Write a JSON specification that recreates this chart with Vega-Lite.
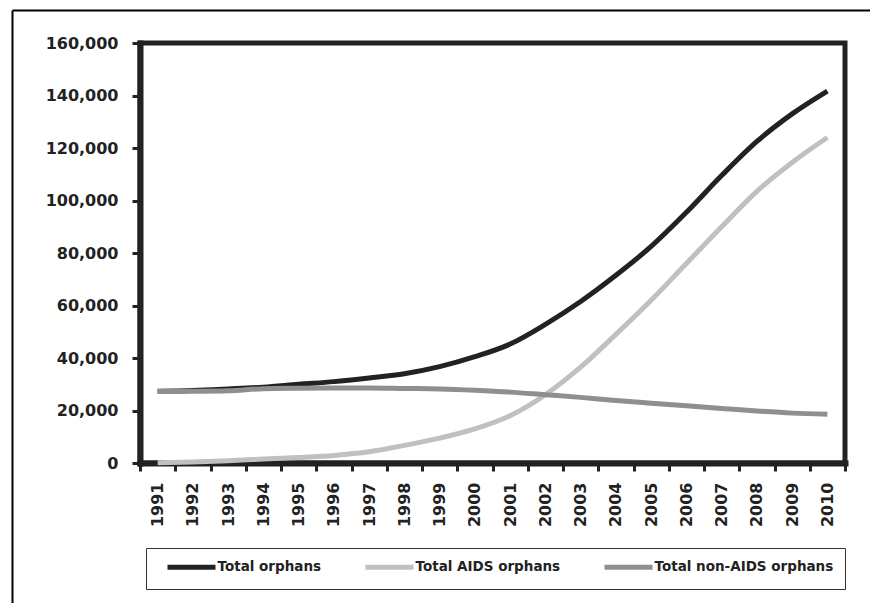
{
  "$schema": "https://vega.github.io/schema/vega-lite/v6.json",
  "width": 705,
  "height": 420,
  "autosize": {"type": "none"},
  "padding": {"left": 140, "top": 43, "right": 25, "bottom": 140},
  "background": "white",
  "config": {
    "font": "DejaVu Sans",
    "view": {"stroke": "#222222", "strokeWidth": 5}
  },
  "data": {
    "values": [
      {"year": "1991", "series": "Total orphans", "value": 27300},
      {"year": "1992", "series": "Total orphans", "value": 27600},
      {"year": "1993", "series": "Total orphans", "value": 28200},
      {"year": "1994", "series": "Total orphans", "value": 28900},
      {"year": "1995", "series": "Total orphans", "value": 30000},
      {"year": "1996", "series": "Total orphans", "value": 31000},
      {"year": "1997", "series": "Total orphans", "value": 32400},
      {"year": "1998", "series": "Total orphans", "value": 34000},
      {"year": "1999", "series": "Total orphans", "value": 36700},
      {"year": "2000", "series": "Total orphans", "value": 40500},
      {"year": "2001", "series": "Total orphans", "value": 45300},
      {"year": "2002", "series": "Total orphans", "value": 52800},
      {"year": "2003", "series": "Total orphans", "value": 61500},
      {"year": "2004", "series": "Total orphans", "value": 71500},
      {"year": "2005", "series": "Total orphans", "value": 82500},
      {"year": "2006", "series": "Total orphans", "value": 95500},
      {"year": "2007", "series": "Total orphans", "value": 109500},
      {"year": "2008", "series": "Total orphans", "value": 122500},
      {"year": "2009", "series": "Total orphans", "value": 133000},
      {"year": "2010", "series": "Total orphans", "value": 141700},
      {"year": "1991", "series": "Total AIDS orphans", "value": 100},
      {"year": "1992", "series": "Total AIDS orphans", "value": 400},
      {"year": "1993", "series": "Total AIDS orphans", "value": 900},
      {"year": "1994", "series": "Total AIDS orphans", "value": 1500},
      {"year": "1995", "series": "Total AIDS orphans", "value": 2100},
      {"year": "1996", "series": "Total AIDS orphans", "value": 2900},
      {"year": "1997", "series": "Total AIDS orphans", "value": 4300},
      {"year": "1998", "series": "Total AIDS orphans", "value": 6700},
      {"year": "1999", "series": "Total AIDS orphans", "value": 9500},
      {"year": "2000", "series": "Total AIDS orphans", "value": 13000},
      {"year": "2001", "series": "Total AIDS orphans", "value": 18000},
      {"year": "2002", "series": "Total AIDS orphans", "value": 26000},
      {"year": "2003", "series": "Total AIDS orphans", "value": 36500},
      {"year": "2004", "series": "Total AIDS orphans", "value": 49000},
      {"year": "2005", "series": "Total AIDS orphans", "value": 62000},
      {"year": "2006", "series": "Total AIDS orphans", "value": 76000},
      {"year": "2007", "series": "Total AIDS orphans", "value": 90000},
      {"year": "2008", "series": "Total AIDS orphans", "value": 103500},
      {"year": "2009", "series": "Total AIDS orphans", "value": 114500},
      {"year": "2010", "series": "Total AIDS orphans", "value": 124000},
      {"year": "1991", "series": "Total non-AIDS orphans", "value": 27200},
      {"year": "1992", "series": "Total non-AIDS orphans", "value": 27300},
      {"year": "1993", "series": "Total non-AIDS orphans", "value": 27500},
      {"year": "1994", "series": "Total non-AIDS orphans", "value": 28300},
      {"year": "1995", "series": "Total non-AIDS orphans", "value": 28500},
      {"year": "1996", "series": "Total non-AIDS orphans", "value": 28600},
      {"year": "1997", "series": "Total non-AIDS orphans", "value": 28600},
      {"year": "1998", "series": "Total non-AIDS orphans", "value": 28400},
      {"year": "1999", "series": "Total non-AIDS orphans", "value": 28200},
      {"year": "2000", "series": "Total non-AIDS orphans", "value": 27700},
      {"year": "2001", "series": "Total non-AIDS orphans", "value": 27000},
      {"year": "2002", "series": "Total non-AIDS orphans", "value": 26000},
      {"year": "2003", "series": "Total non-AIDS orphans", "value": 25000},
      {"year": "2004", "series": "Total non-AIDS orphans", "value": 23800},
      {"year": "2005", "series": "Total non-AIDS orphans", "value": 22800},
      {"year": "2006", "series": "Total non-AIDS orphans", "value": 21800},
      {"year": "2007", "series": "Total non-AIDS orphans", "value": 20800},
      {"year": "2008", "series": "Total non-AIDS orphans", "value": 19800},
      {"year": "2009", "series": "Total non-AIDS orphans", "value": 19000},
      {"year": "2010", "series": "Total non-AIDS orphans", "value": 18600}
    ]
  },
  "layer": [
    {
      "mark": {"type": "line", "strokeWidth": 5, "interpolate": "monotone", "clip": false},
      "encoding": {
        "x": {
          "field": "year",
          "type": "ordinal",
          "scale": {"type": "band", "paddingInner": 0, "paddingOuter": 0},
          "axis": {
            "title": null,
            "orient": "bottom",
            "domainColor": "#222222",
            "domainWidth": 6,
            "domainCap": "square",
            "tickBand": "extent",
            "tickColor": "#222222",
            "tickWidth": 3,
            "tickSize": 8,
            "labelAngle": -90,
            "labelAlign": "right",
            "labelBaseline": "middle",
            "labelPadding": 11,
            "labelFontSize": 16,
            "labelFontWeight": "bold",
            "labelColor": "#222222",
            "grid": false
          }
        },
        "y": {
          "field": "value",
          "type": "quantitative",
          "scale": {"domain": [0, 160000], "nice": false},
          "axis": {
            "title": null,
            "orient": "left",
            "values": [0, 20000, 40000, 60000, 80000, 100000, 120000, 140000, 160000],
            "format": ",d",
            "domainColor": "#222222",
            "domainWidth": 6,
            "domainCap": "square",
            "tickColor": "#222222",
            "tickWidth": 3,
            "tickSize": 8,
            "labelPadding": 14,
            "labelFontSize": 16,
            "labelFontWeight": "bold",
            "labelColor": "#222222",
            "grid": false
          }
        },
        "color": {
          "field": "series",
          "type": "nominal",
          "sort": ["Total orphans", "Total AIDS orphans", "Total non-AIDS orphans"],
          "scale": {
            "domain": ["Total orphans", "Total AIDS orphans", "Total non-AIDS orphans"],
            "range": ["#222222", "#c0c0c0", "#8f8f8f"]
          },
          "legend": {
            "title": null,
            "orient": "none",
            "legendX": 6,
            "legendY": 505,
            "direction": "horizontal",
            "columns": 3,
            "columnPadding": 34,
            "padding": 11.5,
            "symbolOffset": 26.5,
            "strokeColor": "#333333",
            "symbolType": "M-4.8,0H4.8",
            "symbolSize": 100,
            "symbolStrokeWidth": 5,
            "labelFontSize": 13.5,
            "labelFontWeight": "bold",
            "labelColor": "#222222",
            "labelOffset": 18.5,
            "labelLimit": 300
          }
        }
      }
    },
    {
      "mark": {"type": "line", "opacity": 0, "clip": false},
      "encoding": {
        "x": {
          "field": "value",
          "type": "quantitative",
          "scale": {"range": [-128, 730]},
          "axis": {
            "orient": "top",
            "offset": 33,
            "title": null,
            "labels": false,
            "ticks": false,
            "grid": false,
            "domainColor": "#000000",
            "domainWidth": 2
          }
        },
        "y": {
          "field": "value",
          "type": "quantitative",
          "scale": {"range": [580, -33]},
          "axis": {
            "orient": "left",
            "offset": 128,
            "title": null,
            "labels": false,
            "ticks": false,
            "grid": false,
            "domainColor": "#000000",
            "domainWidth": 2
          }
        }
      }
    }
  ],
  "resolve": {"scale": {"x": "independent", "y": "independent"}, "axis": {"x": "independent", "y": "independent"}}
}
